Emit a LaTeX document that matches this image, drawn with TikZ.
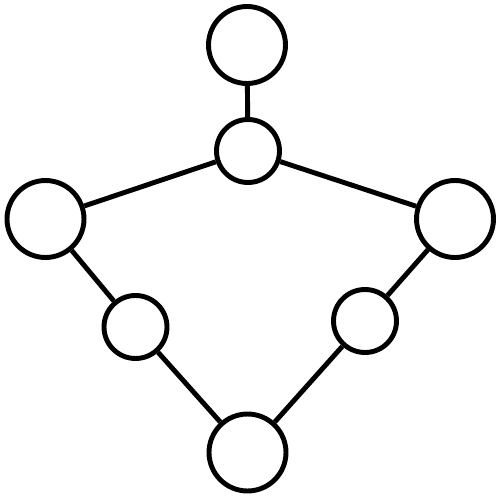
\documentclass[tikz,border=0pt]{standalone}
\begin{document}
\begin{tikzpicture}[x=0.02cm,y=-0.02cm,
  big/.style={circle,draw=black,line width=2.8pt,fill=white,inner sep=0pt,minimum size=1.54cm},
  small/.style={circle,draw=black,line width=2.8pt,fill=white,inner sep=0pt,minimum size=1.26cm},
  link/.style={draw=black,line width=2.8pt}]
\useasboundingbox (0,0) rectangle (500,500);
\node[big] (top) at (247,45) {};
\node[small] (hub) at (248,151) {};
\node[big] (left) at (45.5,219) {};
\node[big] (right) at (455,219) {};
\node[small] (ls) at (135.5,327) {};
\node[small] (rs) at (365,321) {};
\node[big] (bot) at (247.5,452.5) {};
\draw[link] (top) -- (hub);
\draw[link] (hub) -- (left);
\draw[link] (hub) -- (right);
\draw[link] (left) -- (ls);
\draw[link] (ls) -- (bot);
\draw[link] (right) -- (rs);
\draw[link] (rs) -- (bot);
\end{tikzpicture}
\end{document}
